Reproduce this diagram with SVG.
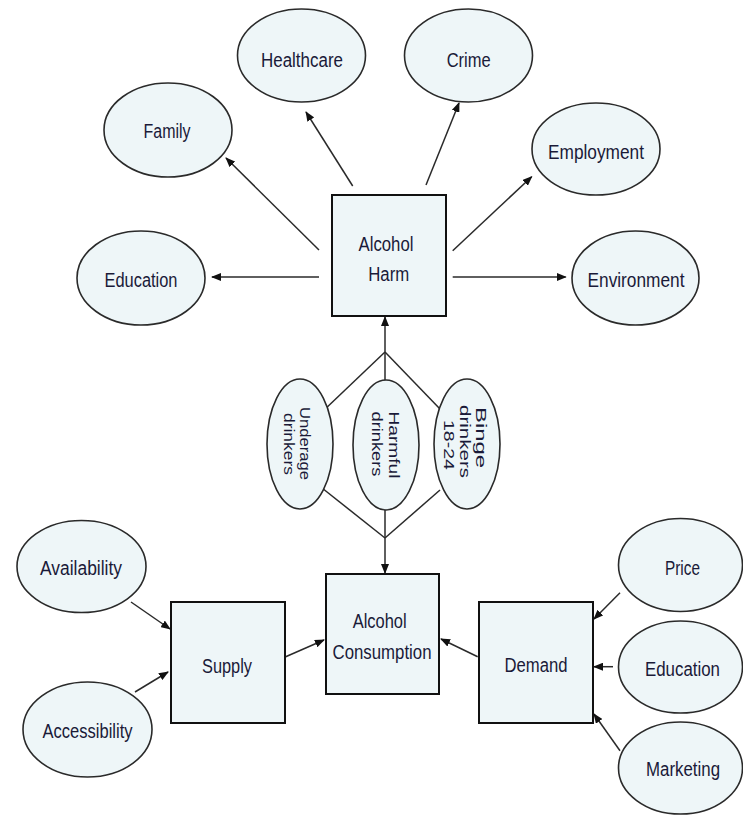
<svg xmlns="http://www.w3.org/2000/svg" width="743" height="816" viewBox="0 0 743 816">
<style>
.ell{fill:#eef6f8;stroke:#2a2a2a;stroke-width:1.6}
.box{fill:#eef6f8;stroke:#111;stroke-width:2}
.lbl{font-family:"Liberation Sans",Arial,sans-serif;font-size:20px;fill:#1a1a38;text-anchor:middle}
.rot{font-family:"Liberation Sans",Arial,sans-serif;font-size:15px;fill:#1a1a38;text-anchor:middle}
.con{stroke:#2a2a2a;stroke-width:1.5;fill:none}
.arr{marker-end:url(#ah)}
</style>
<defs>
<marker id="ah" markerUnits="userSpaceOnUse" markerWidth="10" markerHeight="8" refX="9" refY="4" orient="auto">
<path d="M0,0 L10,4 L0,8 z" fill="#111"/>
</marker>
</defs>
<rect width="743" height="816" fill="#fff"/>
<g id="connectors">
<line class="con arr" x1="352.7" y1="186" x2="306" y2="112"/>
<line class="con arr" x1="319" y1="250" x2="226" y2="158"/>
<line class="con arr" x1="319" y1="277" x2="212" y2="277"/>
<line class="con arr" x1="426" y1="185" x2="459" y2="103"/>
<line class="con arr" x1="452.7" y1="250.7" x2="531.7" y2="176.7"/>
<line class="con arr" x1="452.7" y1="277" x2="565.7" y2="277"/>
<line class="con arr" x1="385" y1="382" x2="385" y2="317"/>
<line class="con arr" x1="385" y1="508" x2="385" y2="573"/>
<line class="con" x1="385" y1="352" x2="322" y2="412"/>
<line class="con" x1="385" y1="352" x2="440" y2="409"/>
<line class="con" x1="385" y1="538" x2="322" y2="488"/>
<line class="con" x1="385" y1="538" x2="440" y2="490"/>
<line class="con arr" x1="131" y1="602" x2="170" y2="629"/>
<line class="con arr" x1="135" y1="692" x2="168" y2="672"/>
<line class="con arr" x1="285.7" y1="656.7" x2="324" y2="640"/>
<line class="con arr" x1="477.7" y1="656.7" x2="441" y2="639"/>
<line class="con arr" x1="620" y1="592.7" x2="594" y2="619"/>
<line class="con arr" x1="613" y1="666.7" x2="594" y2="666.7"/>
<line class="con arr" x1="620" y1="750.7" x2="594" y2="714"/>
</g>
<g id="healthcare"><ellipse class="ell" cx="301.5" cy="55.5" rx="64" ry="46.5"/><text class="lbl" x="302" y="67" textLength="82" lengthAdjust="spacingAndGlyphs">Healthcare</text></g>
<g id="crime"><ellipse class="ell" cx="468.5" cy="55.5" rx="64" ry="46.5"/><text class="lbl" x="468.7" y="67" textLength="44" lengthAdjust="spacingAndGlyphs">Crime</text></g>
<g id="family"><ellipse class="ell" cx="168" cy="130" rx="64" ry="47"/><text class="lbl" x="167" y="138" textLength="47" lengthAdjust="spacingAndGlyphs">Family</text></g>
<g id="employment"><ellipse class="ell" cx="596" cy="149" rx="64" ry="46"/><text class="lbl" x="596" y="159" textLength="96" lengthAdjust="spacingAndGlyphs">Employment</text></g>
<g id="education-harm"><ellipse class="ell" cx="141" cy="278" rx="64" ry="47"/><text class="lbl" x="141" y="287" textLength="73" lengthAdjust="spacingAndGlyphs">Education</text></g>
<g id="environment"><ellipse class="ell" cx="635.5" cy="278" rx="63.5" ry="47"/><text class="lbl" x="636" y="287" textLength="97" lengthAdjust="spacingAndGlyphs">Environment</text></g>
<g id="alcohol-harm"><rect class="box" x="332" y="195" width="114" height="121"/><text class="lbl" x="386" y="251" textLength="55" lengthAdjust="spacingAndGlyphs">Alcohol</text><text class="lbl" x="388.7" y="281" textLength="41" lengthAdjust="spacingAndGlyphs">Harm</text></g>
<g id="underage"><ellipse class="ell" cx="300" cy="444" rx="33" ry="65"/><text class="rot" transform="translate(299.5,443.5) rotate(90)" textLength="73" lengthAdjust="spacingAndGlyphs">Underage</text><text class="rot" transform="translate(284,444) rotate(90)" textLength="62" lengthAdjust="spacingAndGlyphs">drinkers</text></g>
<g id="harmful"><ellipse class="ell" cx="386" cy="445" rx="33" ry="65"/><text class="rot" transform="translate(388.5,445) rotate(90)" textLength="67" lengthAdjust="spacingAndGlyphs">Harmful</text><text class="rot" transform="translate(371.5,444) rotate(90)" textLength="65" lengthAdjust="spacingAndGlyphs">drinkers</text></g>
<g id="binge"><ellipse class="ell" cx="467" cy="444" rx="33" ry="65"/><text class="rot" transform="translate(475.5,437.5) rotate(90)" textLength="61" lengthAdjust="spacingAndGlyphs">Binge</text><text class="rot" transform="translate(460,441.5) rotate(90)" textLength="73" lengthAdjust="spacingAndGlyphs">drinkers</text><text class="rot" transform="translate(443.5,445) rotate(90)" textLength="50" lengthAdjust="spacingAndGlyphs">18-24</text></g>
<g id="availability"><ellipse class="ell" cx="81.5" cy="566.5" rx="64.5" ry="46"/><text class="lbl" x="81" y="575" textLength="82" lengthAdjust="spacingAndGlyphs">Availability</text></g>
<g id="accessibility"><ellipse class="ell" cx="87.5" cy="729.5" rx="64.5" ry="47.5"/><text class="lbl" x="87.5" y="738" textLength="90" lengthAdjust="spacingAndGlyphs">Accessibility</text></g>
<g id="supply"><rect class="box" x="171" y="602" width="114" height="121"/><text class="lbl" x="227" y="673" textLength="50" lengthAdjust="spacingAndGlyphs">Supply</text></g>
<g id="alcohol-consumption"><rect class="box" x="326" y="574" width="113" height="120"/><text class="lbl" x="379.7" y="628" textLength="54" lengthAdjust="spacingAndGlyphs">Alcohol</text><text class="lbl" x="382" y="659" textLength="99" lengthAdjust="spacingAndGlyphs">Consumption</text></g>
<g id="demand"><rect class="box" x="479" y="602" width="114" height="121"/><text class="lbl" x="536" y="672" textLength="63" lengthAdjust="spacingAndGlyphs">Demand</text></g>
<g id="price"><ellipse class="ell" cx="680.5" cy="565" rx="62" ry="46.5"/><text class="lbl" x="682.5" y="575" textLength="35" lengthAdjust="spacingAndGlyphs">Price</text></g>
<g id="education-demand"><ellipse class="ell" cx="680.5" cy="667" rx="62" ry="46"/><text class="lbl" x="682.5" y="676" textLength="75" lengthAdjust="spacingAndGlyphs">Education</text></g>
<g id="marketing"><ellipse class="ell" cx="680.5" cy="768" rx="62" ry="46"/><text class="lbl" x="683" y="776" textLength="74" lengthAdjust="spacingAndGlyphs">Marketing</text></g>
</svg>
